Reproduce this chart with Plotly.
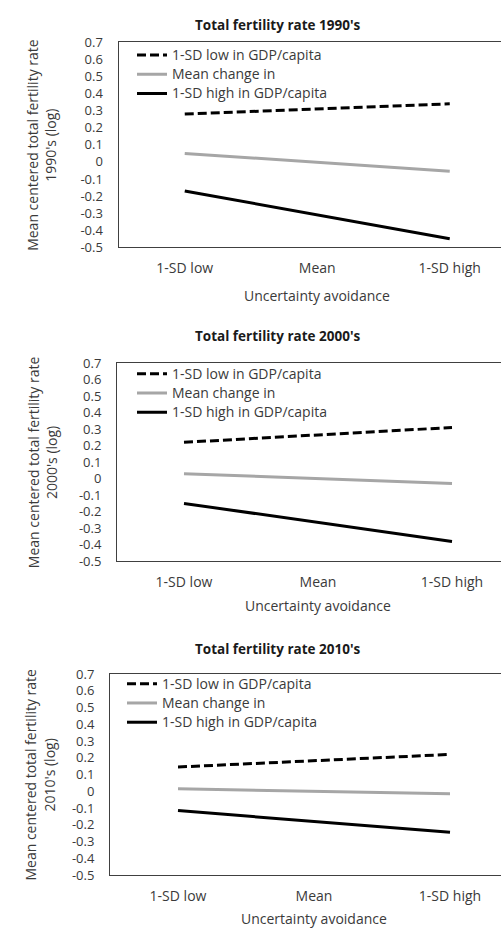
import plotly.graph_objects as go

W, H = 501, 939

categories = ["1-SD low", "Mean", "1-SD high"]
line_x = ["1-SD low", "1-SD high"]

series_names = ["1-SD low in GDP/capita", "Mean change in", "1-SD high in GDP/capita"]

low_gdp_1990 = [0.28, 0.34]
mean_1990 = [0.05, -0.055]
high_gdp_1990 = [-0.17, -0.45]

low_gdp_2000 = [0.22, 0.31]
mean_2000 = [0.03, -0.03]
high_gdp_2000 = [-0.15, -0.38]

low_gdp_2010 = [0.145, 0.22]
mean_2010 = [0.015, -0.015]
high_gdp_2010 = [-0.115, -0.245]

y_ticks = [0.7, 0.6, 0.5, 0.4, 0.3, 0.2, 0.1, 0, -0.1, -0.2, -0.3, -0.4, -0.5]
y_tick_text = ["0.7", "0.6", "0.5", "0.4", "0.3", "0.2", "0.1", "0", "-0.1", "-0.2", "-0.3", "-0.4", "-0.5"]

titles = ["Total fertility rate 1990's", "Total fertility rate 2000's", "Total fertility rate 2010's"]
y_titles = ["Mean centered total fertility rate<br>1990's (log)",
            "Mean centered total fertility rate<br>2000's (log)",
            "Mean centered total fertility rate<br>2010's (log)"]
x_title = "Uncertainty avoidance"

panels = [
    (low_gdp_1990, mean_1990, high_gdp_1990),
    (low_gdp_2000, mean_2000, high_gdp_2000),
    (low_gdp_2010, mean_2010, high_gdp_2010),
]

# layout geometry in pixels: (left, top, bottom, px per category)
geom = [
    (118.5, 34, 243, 132.5),
    (117, 361, 563, 134),
    (110, 678, 883, 136),
]
title_y = [16, 333, 652]
ytitle_x = [42, 42, 40]
xtitle_off = [49, 45, 44]
legend_top = [32, 357, 673]
legend_left = [132, 132, 122]

FONT = "Open Sans"
TXT = "#3a3a3a"
styles = [
    dict(color="black", width=3, dash="9px,4px"),
    dict(color="#A6A6A6", width=3),
    dict(color="black", width=3),
]

fig = go.Figure()
layout = dict(width=W, height=H, margin=dict(l=0, r=0, t=0, b=0),
              paper_bgcolor="white", plot_bgcolor="white", showlegend=True,
              font=dict(family=FONT, size=14, color=TXT))
annotations = []

def px(v):
    return v / W

def py(v):
    return 1 - v / H

for i, (vals, g) in enumerate(zip(panels, geom)):
    left, top, bottom, ppu = g
    sfx = "" if i == 0 else str(i + 1)
    leg = "legend" if i == 0 else f"legend{i+1}"
    for name, v, st in zip(series_names, vals, styles):
        fig.add_trace(go.Scatter(x=line_x, y=v, mode="lines",
                                 name='<span style="font-size:14px">' + name + '</span>',
                                 line=st, xaxis="x" + sfx, yaxis="y" + sfx, legend=leg,
                                 hoverinfo="skip"))
    right_units = -0.5 + (W - left) / ppu
    layout["xaxis" + sfx] = dict(
        domain=[px(left), 1.0], anchor="y" + sfx, type="category",
        categoryorder="array", categoryarray=categories,
        range=[-0.5, right_units], showline=True, linecolor="#404040", linewidth=1,
        mirror=True, showgrid=False, zeroline=False, ticks="", fixedrange=True,
        tickfont=dict(family=FONT, size=14, color=TXT), ticklabelstandoff=8)
    layout["yaxis" + sfx] = dict(
        domain=[py(bottom), py(top)], anchor="x" + sfx, range=[-0.5, 0.7],
        tickvals=y_ticks, ticktext=y_tick_text, showline=True, linecolor="#404040",
        linewidth=1, showgrid=False, zeroline=False, ticks="", fixedrange=True,
        tickfont=dict(family=FONT, size=13, color=TXT), ticklabelstandoff=12)
    layout[leg] = dict(x=px(legend_left[i]), y=py(legend_top[i]), xanchor="left",
                       yanchor="top", xref="paper", yref="paper",
                       bgcolor="rgba(0,0,0,0)", borderwidth=0,
                       font=dict(family=FONT, size=12.5, color=TXT),
                       tracegroupgap=0, itemclick=False, itemdoubleclick=False)
    annotations.append(dict(text="<b>" + titles[i] + "</b>", x=px(278), y=py(title_y[i]),
                            xref="paper", yref="paper", showarrow=False,
                            xanchor="center", yanchor="middle",
                            font=dict(family=FONT, size=13.5, color="#1a1a1a")))
    annotations.append(dict(text=y_titles[i], x=px(ytitle_x[i]), y=py((top + bottom) / 2),
                            xref="paper", yref="paper", showarrow=False, textangle=-90,
                            xanchor="center", yanchor="middle",
                            font=dict(family=FONT, size=14, color=TXT)))
    annotations.append(dict(text=x_title, x="Mean", xref="x" + sfx,
                            y=py(bottom + xtitle_off[i]), yref="paper", showarrow=False,
                            xanchor="center", yanchor="middle",
                            font=dict(family=FONT, size=14, color=TXT)))

layout["annotations"] = annotations
fig.update_layout(**layout)
fig.write_html("out.html", config={"displayModeBar": False},
               post_script="document.body.style.margin='0';document.body.style.overflow='hidden';")
